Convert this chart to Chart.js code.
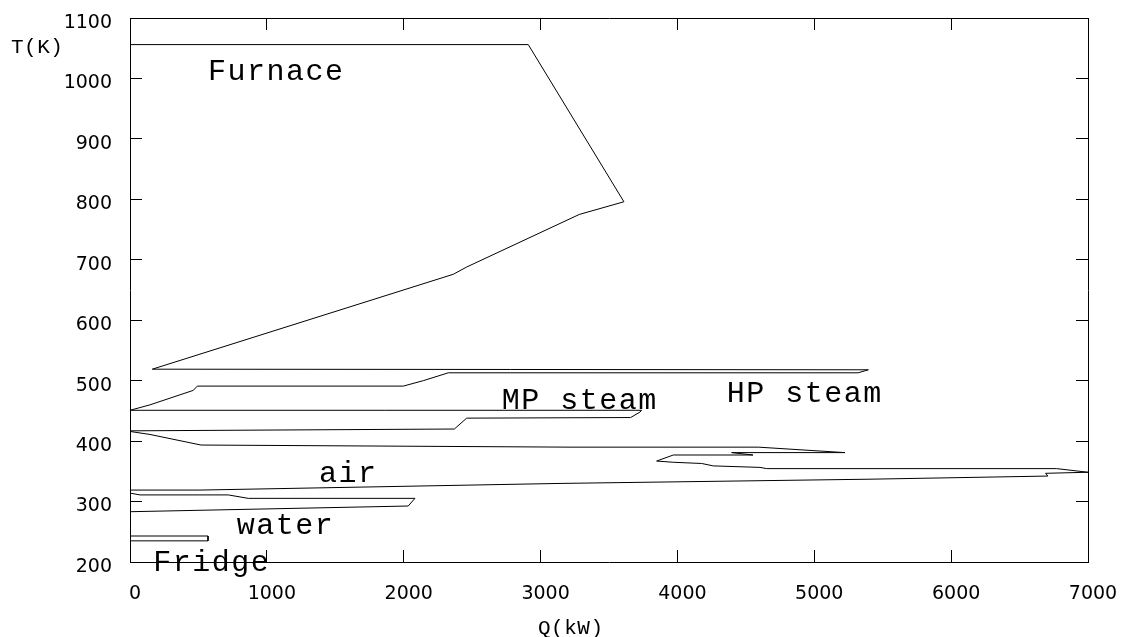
<!DOCTYPE html>
<html>
<head>
<meta charset="utf-8">
<script src="https://cdn.jsdelivr.net/npm/chart.js@4.4.1/dist/chart.umd.min.js"></script>
<style>
  html, body { margin: 0; padding: 0; background: #fff; }
  #chart { display: block; }
</style>
</head>
<body>
<canvas id="chart" width="1124" height="637"></canvas>
<script>
// composite curves, Q in kW, T in K
const furnaceQ = [0, 2910, 3609, 3283, 2460, 2362, 163, 5395];
const furnaceT = [1056, 1056, 796, 775, 688, 676, 519, 518];

const hpQ = [5395, 5320, 2326, 2143, 1997, 492, 463, 146, 0];
const hpT = [518, 513, 513, 500, 491, 491, 484, 460, 451];

const mpQ = [0, 3738, 3726, 3658, 2460, 2370, 0];
const mpT = [451, 451, 448, 439, 438, 420, 417];

const airQ = [0, 146, 519, 3215, 4591, 5224, 4396, 4552, 3970, 3848, 3970, 4177, 4262, 4603, 4652, 6770, 7000, 6690, 6707, 5407, 3142, 511, 0];
const airT = [416, 411, 393.5, 390, 390, 381, 381, 377, 377, 367, 365, 363, 359, 356.5, 354.5, 354.5, 348.5, 346.7, 342.2, 337, 330, 319, 319];

const waterQ = [0, 73, 718, 864, 2082, 2033, 0];
const waterT = [314, 311, 311, 305.3, 305.3, 292.6, 283.2];

const fridgeQ = [0, 570, 570, 0];
const fridgeT = [243, 243, 235, 235];

const labelText = ['Furnace', 'MP steam', 'HP steam', 'air', 'water', 'Fridge'];
const labelQ = [570, 2716, 4360, 1381, 780, 170];
const labelT = [997, 453, 465, 333, 247, 185];

const xTicks = [0, 1000, 2000, 3000, 4000, 5000, 6000, 7000];
const yTicks = [200, 300, 400, 500, 600, 700, 800, 900, 1000, 1100];

function pts(qs, ts) {
  return qs.map((q, i) => ({x: q, y: ts[i]}));
}

function curve(qs, ts) {
  return {
    data: pts(qs, ts),
    showLine: true,
    borderColor: '#000',
    borderWidth: 1,
    pointRadius: 0,
    tension: 0,
    fill: false
  };
}

const textPlugin = {
  id: 'texts',
  afterDatasetsDraw(chart) {
    const ctx = chart.ctx;
    const x = chart.scales.x, y = chart.scales.y;
    ctx.save();
    ctx.fillStyle = '#000';
    ctx.textAlign = 'left';
    ctx.textBaseline = 'alphabetic';
    ctx.font = '30px "Liberation Mono"';
    ctx.letterSpacing = '1.5px';
    labelText.forEach((t, i) => {
      ctx.fillText(t, x.getPixelForValue(labelQ[i]), y.getPixelForValue(labelT[i]));
    });
    ctx.font = '21px "Liberation Mono"';
    ctx.letterSpacing = '0.5px';
    ctx.fillText('T(K)', 11, 53);
    ctx.fillText('Q(kW)', 538, 634);
    ctx.restore();
  }
};

function axis(pos, lo, hi, showLabels, size) {
  const horiz = pos === 'top' || pos === 'bottom';
  return {
    type: 'linear',
    position: pos,
    min: lo,
    max: hi,
    afterFit(s) {
      if (horiz) s.height = size; else s.width = size;
      s.paddingLeft = 0;
      s.paddingRight = 0;
      s.paddingTop = 0;
      s.paddingBottom = 0;
    },
    afterBuildTicks(s) {
      s.ticks = (horiz ? xTicks : yTicks).map(v => ({value: v}));
    },
    ticks: {
      display: showLabels,
      color: '#000',
      font: {family: 'DejaVu Sans', size: 19},
      padding: horiz ? 33 : 30,
      labelOffset: horiz ? 5 : 5,
      maxRotation: 0,
      autoSkip: false,
      callback: v => String(v)
    },
    grid: {
      display: true,
      drawOnChartArea: false,
      drawTicks: true,
      tickLength: -12,
      color: '#000',
      lineWidth: 1
    },
    border: {display: true, color: '#000', width: 1}
  };
}

new Chart(document.getElementById('chart'), {
  type: 'scatter',
  data: {
    datasets: [
      curve(furnaceQ, furnaceT),
      curve(hpQ, hpT),
      curve(mpQ, mpT),
      curve(airQ, airT),
      curve(waterQ, waterT),
      curve(fridgeQ, fridgeT)
    ]
  },
  options: {
    responsive: false,
    animation: false,
    devicePixelRatio: 1,
    layout: {padding: 0},
    plugins: {legend: {display: false}, tooltip: {enabled: false}},
    scales: {
      x: axis('bottom', 0, 7000, true, 75),
      y: axis('left', 200, 1100, true, 130),
      x2: axis('top', 0, 7000, false, 18),
      y2: axis('right', 200, 1100, false, 36)
    }
  },
  plugins: [textPlugin]
});
</script>
</body>
</html>
